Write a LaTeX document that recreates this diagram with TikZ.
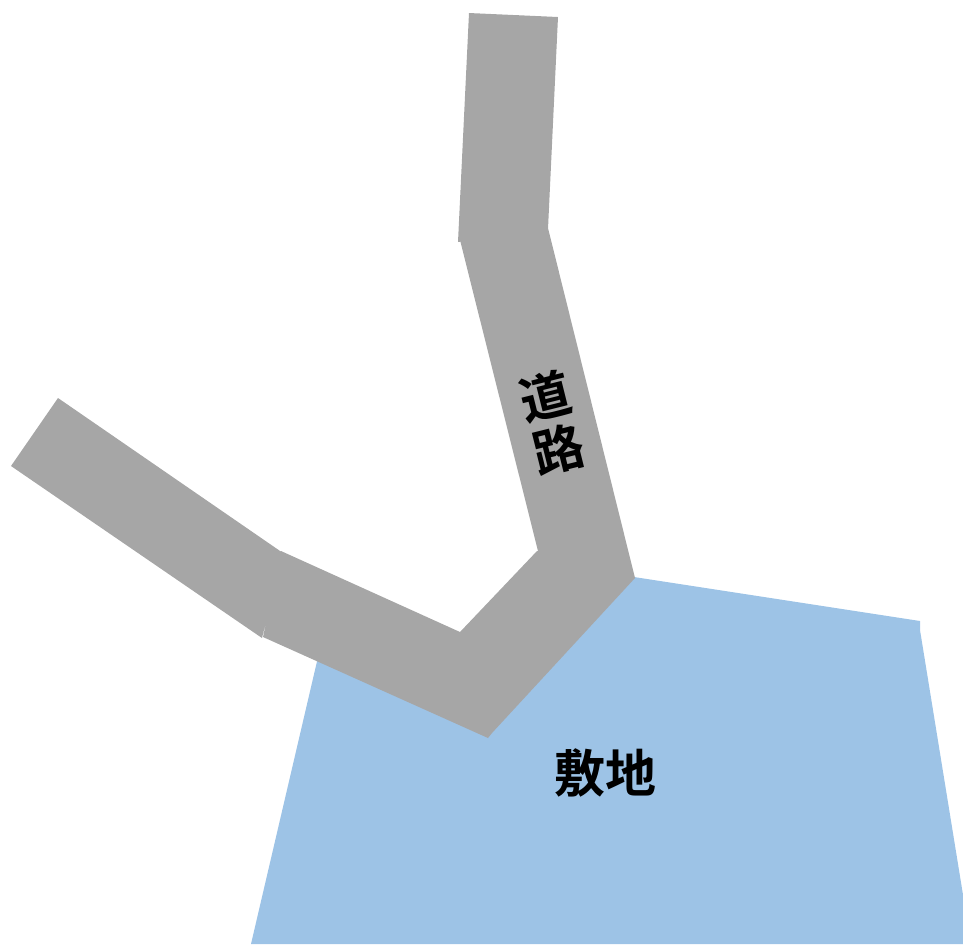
\documentclass[tikz,border=0pt]{standalone}
\usepackage{fontspec}
\usepackage{xcolor}
\usepackage{tikz}
\newfontfamily\cjkfont{Noto Sans CJK JP Bold}
\definecolor{roadgray}{HTML}{A6A6A6}
\definecolor{plotblue}{HTML}{9DC3E6}

\begin{document}
\begin{tikzpicture}[
    x=0.01cm, y=-0.01cm,
    road/.style={fill=roadgray, draw=none, nonzero rule},
    plot/.style={fill=plotblue, draw=none},
    label/.style={font=\cjkfont\fontsize{14.5pt}{15.4pt}\selectfont, text=black, inner sep=0pt, align=center}
]
    \useasboundingbox (0,0) rectangle (963,944);
    \clip (0,0) rectangle (963,944);

    % Site
    \fill[plot] (322,640) -- (470,700) -- (600,600) -- (634,577) -- (920,621) -- (920,630) -- (971,944) -- (251,944) -- cycle;

    % Road segments (one path, so no seams)
    \fill[road] (469,13) -- (558,17) -- (548,229) -- (458,242) -- cycle
        (460,240) -- (548,228) -- (635,578) -- (538,551) -- cycle
        (537,551) -- (635,578) -- (492,733) -- (488,738) -- (460,632) -- cycle
        (281,551) -- (460,632) -- (488,738) -- (263,637) -- cycle
        (58,398) -- (283,553) -- (262,638) -- (11,466) -- cycle;

    % Labels
    \node[label, rotate=14] (roadlabel) at (552,423) {道\\路};
    \node[label] (sitelabel) at (605,773) {敷地};
\end{tikzpicture}
\end{document}
